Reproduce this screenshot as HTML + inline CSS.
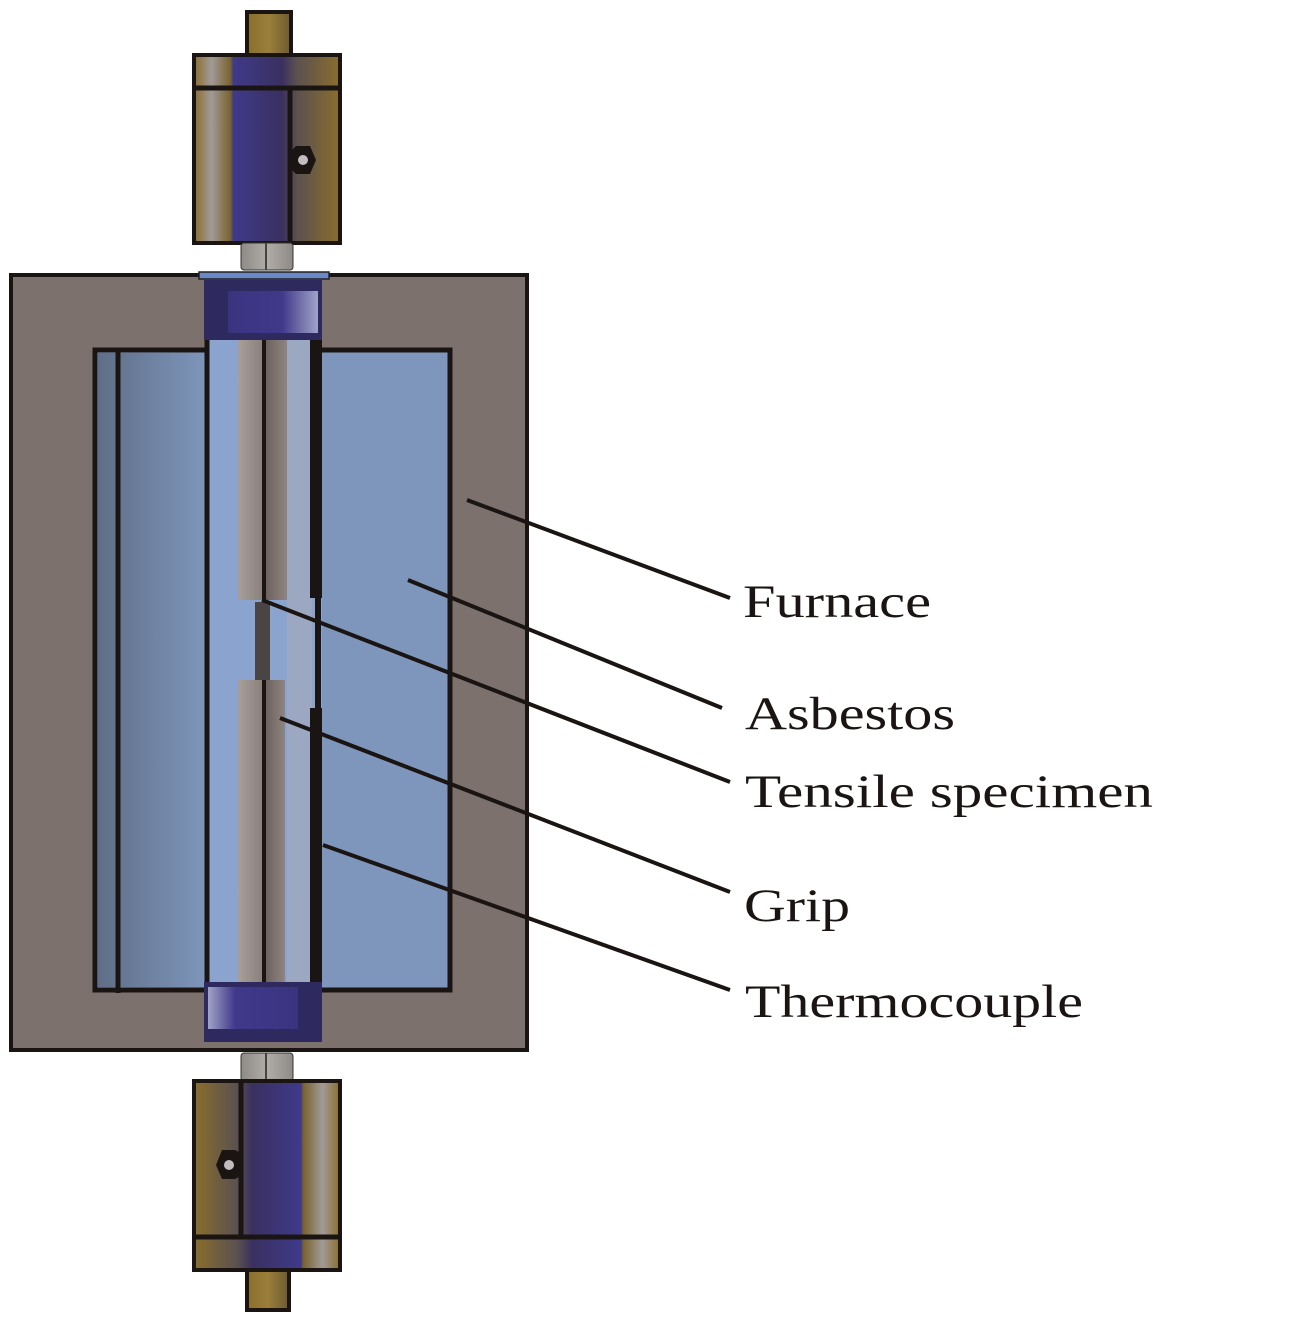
<!DOCTYPE html>
<html><head><meta charset="utf-8"><style>html,body{margin:0;padding:0;background:#fff}svg{display:block}.lb{font-family:"Liberation Serif","Times New Roman",serif;font-size:47px;fill:#1a1512}</style></head>
<body>
<svg width="1295" height="1324" viewBox="0 0 1295 1324" xmlns="http://www.w3.org/2000/svg">
<defs>
<linearGradient id="brass" x1="0" x2="1">
<stop offset="0" stop-color="#8a6e2c"/><stop offset="0.12" stop-color="#a19a98"/><stop offset="0.25" stop-color="#7a6330"/>
<stop offset="0.27" stop-color="#3e3a8a"/><stop offset="0.6" stop-color="#3a3060"/><stop offset="0.7" stop-color="#5a5050"/><stop offset="1" stop-color="#8a6e2c"/></linearGradient>
<linearGradient id="brass2" x1="1" x2="0">
<stop offset="0" stop-color="#8a6e2c"/><stop offset="0.12" stop-color="#a19a98"/><stop offset="0.25" stop-color="#7a6330"/>
<stop offset="0.27" stop-color="#3e3a8a"/><stop offset="0.6" stop-color="#3a3060"/><stop offset="0.7" stop-color="#5a5050"/><stop offset="1" stop-color="#8a6e2c"/></linearGradient>
<linearGradient id="rod" x1="0" x2="1"><stop offset="0" stop-color="#8a6e2c"/><stop offset="0.5" stop-color="#9a7e3a"/><stop offset="1" stop-color="#6e5a30"/></linearGradient>
<linearGradient id="collar" x1="0" x2="1"><stop offset="0" stop-color="#3a3480"/><stop offset="0.6" stop-color="#40388a"/><stop offset="1" stop-color="#a0a4c8"/></linearGradient>
<linearGradient id="collar2" x1="0" x2="1"><stop offset="0" stop-color="#a0a4c8"/><stop offset="0.3" stop-color="#40388a"/><stop offset="1" stop-color="#3a3480"/></linearGradient>
<linearGradient id="asl" x1="0" x2="1"><stop offset="0" stop-color="#5f6e88"/><stop offset="1" stop-color="#7e96bb"/></linearGradient>
<linearGradient id="spec" x1="0" x2="1"><stop offset="0" stop-color="#a89e9a"/><stop offset="1" stop-color="#8a807c"/></linearGradient>
<linearGradient id="spec2" x1="0" x2="1"><stop offset="0" stop-color="#6e625e"/><stop offset="1" stop-color="#8e8480"/></linearGradient>
<linearGradient id="nut" x1="0" x2="1"><stop offset="0" stop-color="#8e8a86"/><stop offset="0.5" stop-color="#b0aca6"/><stop offset="1" stop-color="#8e8a86"/></linearGradient>
</defs>
<rect x="247" y="12" width="44" height="44" fill="url(#rod)" stroke="#1a1512" stroke-width="4"/>
<rect x="194" y="55" width="146" height="188" fill="url(#brass)" stroke="#1a1512" stroke-width="4"/>
<line x1="194" y1="88" x2="340" y2="88" stroke="#1a1512" stroke-width="5"/>
<line x1="290" y1="88" x2="290" y2="243" stroke="#1a1512" stroke-width="5"/>
<polygon points="290,152 296,146 310,146 316,160 310,174 296,174 290,168" fill="#1a1512"/>
<circle cx="303" cy="160" r="5" fill="#c0bcc0"/>
<rect x="241" y="243" width="52" height="27" rx="3" fill="url(#nut)" stroke="#333" stroke-width="1"/>
<line x1="266" y1="243" x2="266" y2="270" stroke="#444" stroke-width="2"/>
<rect x="11" y="275" width="516" height="775" fill="#7d716e" stroke="#1a1512" stroke-width="4"/>
<rect x="95" y="350" width="355" height="640" fill="#7e96bb" stroke="#1a1512" stroke-width="5"/>
<rect x="98" y="353" width="108" height="634" fill="url(#asl)"/>
<line x1="118" y1="352" x2="118" y2="993" stroke="#1a1512" stroke-width="5"/>
<rect x="206" y="340" width="116" height="645" fill="#8aa4cf"/>
<line x1="207" y1="340" x2="207" y2="985" stroke="#1a1512" stroke-width="5"/>
<rect x="287" y="340" width="25" height="645" fill="#9ca8c2"/>
<rect x="238" y="340" width="24" height="260" fill="url(#spec)"/>
<rect x="266" y="340" width="21" height="260" fill="url(#spec2)"/>
<rect x="262" y="340" width="4" height="262" fill="#1a1512"/>
<rect x="255" y="602" width="15" height="78" fill="#4a4444"/>
<rect x="238" y="680" width="24" height="302" fill="url(#spec)"/>
<rect x="266" y="680" width="19" height="302" fill="url(#spec2)"/>
<rect x="262" y="680" width="4" height="302" fill="#1a1512"/>
<rect x="310" y="340" width="12" height="258" fill="#1a1512"/>
<rect x="315" y="598" width="6" height="110" fill="#1a1512"/>
<rect x="310" y="708" width="12" height="277" fill="#1a1512"/>
<rect x="199" y="272" width="130" height="7" fill="#6a88c8" stroke="#222" stroke-width="1.5"/>
<rect x="204" y="280" width="118" height="60" fill="#2e2a60"/>
<rect x="228" y="291" width="90" height="42" fill="url(#collar)"/>
<rect x="204" y="982" width="118" height="60" fill="#2e2a60"/>
<rect x="208" y="987" width="90" height="42" fill="url(#collar2)"/>
<rect x="241" y="1053" width="52" height="28" rx="3" fill="url(#nut)" stroke="#333" stroke-width="1"/>
<line x1="266" y1="1053" x2="266" y2="1081" stroke="#444" stroke-width="2"/>
<rect x="247" y="1268" width="42" height="42" fill="url(#rod)" stroke="#1a1512" stroke-width="4"/>
<rect x="194" y="1081" width="146" height="189" fill="url(#brass2)" stroke="#1a1512" stroke-width="4"/>
<line x1="194" y1="1237" x2="340" y2="1237" stroke="#1a1512" stroke-width="5"/>
<line x1="241" y1="1081" x2="241" y2="1237" stroke="#1a1512" stroke-width="5"/>
<polygon points="241,1153 235,1150 222,1150 216,1165 222,1179 235,1179 241,1176" fill="#1a1512"/>
<circle cx="229" cy="1165" r="5" fill="#c0bcc0"/>
<g stroke="#1a1512" stroke-width="4" fill="none">
<line x1="467" y1="500" x2="730" y2="598"/>
<line x1="408" y1="580" x2="722" y2="708"/>
<line x1="262" y1="600" x2="730" y2="782"/>
<line x1="280" y1="718" x2="730" y2="892"/>
<line x1="323" y1="845" x2="730" y2="990"/>
</g>
<text class="lb" x="743" y="617" textLength="188" lengthAdjust="spacingAndGlyphs">Furnace</text>
<text class="lb" x="745" y="729" textLength="210" lengthAdjust="spacingAndGlyphs">Asbestos</text>
<text class="lb" x="745" y="807" textLength="408" lengthAdjust="spacingAndGlyphs">Tensile specimen</text>
<text class="lb" x="744" y="921" textLength="106" lengthAdjust="spacingAndGlyphs">Grip</text>
<text class="lb" x="745" y="1017" textLength="338" lengthAdjust="spacingAndGlyphs">Thermocouple</text>
</svg>
</body></html>
